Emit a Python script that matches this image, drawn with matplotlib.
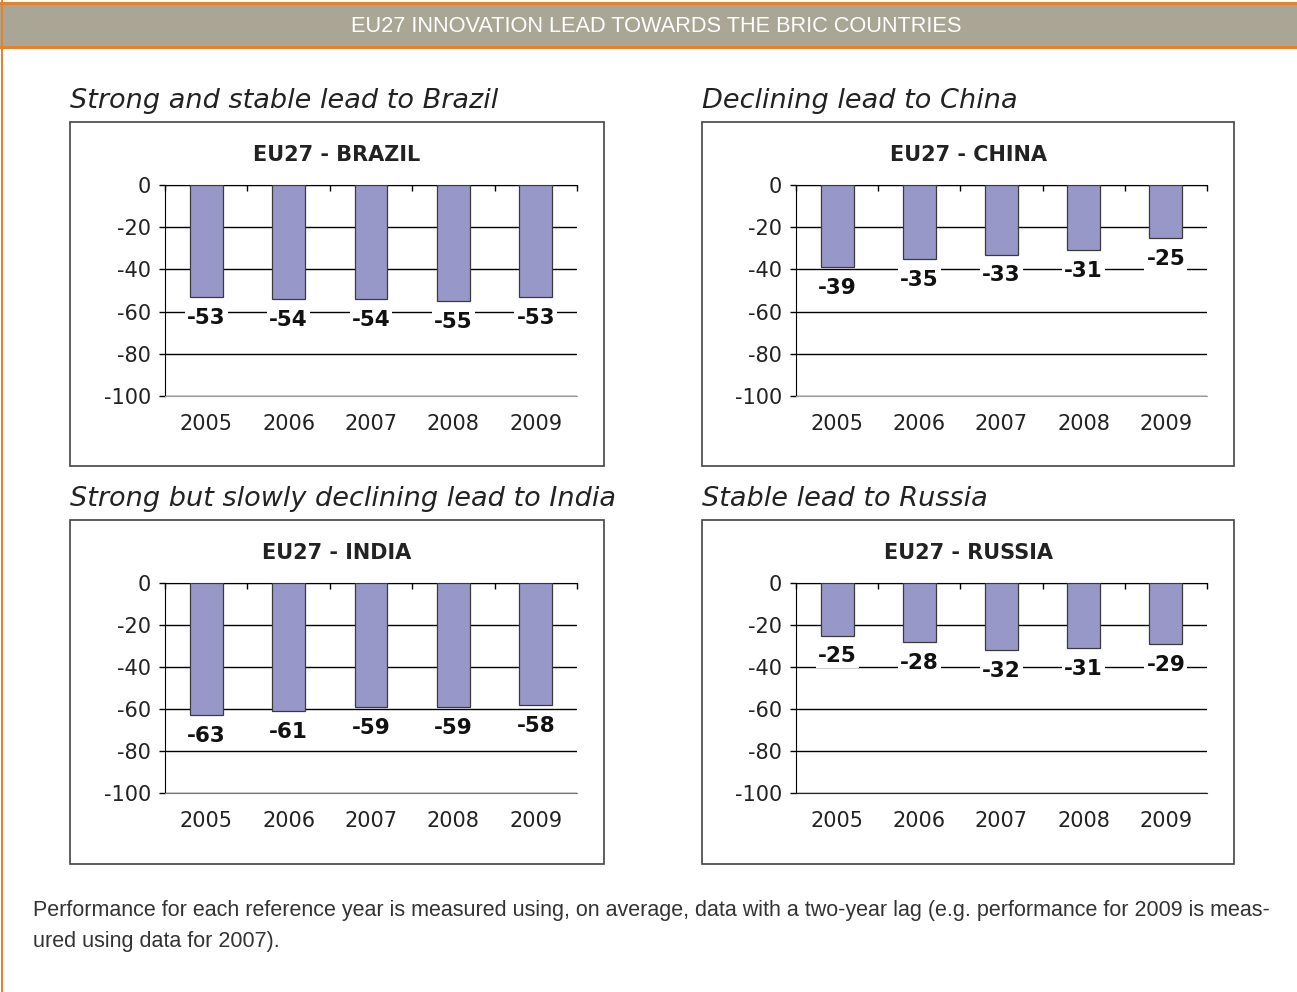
import matplotlib
matplotlib.use('Agg')
import matplotlib.pyplot as plt
from matplotlib import font_manager
from matplotlib.patches import Rectangle

# data
years = ['2005', '2006', '2007', '2008', '2009']
brazil = [-53, -54, -54, -55, -53]
china = [-39, -35, -33, -31, -25]
india = [-63, -61, -59, -59, -58]
russia = [-25, -28, -32, -31, -29]

chart_titles = ['EU27 - BRAZIL', 'EU27 - CHINA', 'EU27 - INDIA', 'EU27 - RUSSIA']
subtitles = ['Strong and stable lead to Brazil', 'Declining lead to China',
             'Strong but slowly declining lead to India', 'Stable lead to Russia']
yticks = [0, -20, -40, -60, -80, -100]
header = 'EU27 INNOVATION LEAD TOWARDS THE BRIC COUNTRIES'
footer = ('Performance for each reference year is measured using, on average, data with a two-year lag (e.g. performance for 2009 is meas-\n'
          'ured using data for 2007).')

plt.rcParams['axes.unicode_minus'] = False
names = {f.name for f in font_manager.fontManager.ttflist}
narrow = 'Liberation Sans Narrow' if 'Liberation Sans Narrow' in names else 'Liberation Sans'

W, H = 1297, 992
fig = plt.figure(figsize=(W / 100, H / 100), dpi=100)

def fx(x):
    return x / W

def fy(y):
    return 1 - y / H

ORANGE = '#E8822A'

# header band and orange frame
fig.add_artist(Rectangle((0, fy(46)), 1, (46 - 4) / H, transform=fig.transFigure,
                         facecolor='#A9A696', edgecolor='none'))
fig.add_artist(Rectangle((0, fy(5)), 1, 3 / H, transform=fig.transFigure,
                         facecolor=ORANGE, edgecolor='none'))
fig.add_artist(Rectangle((0, fy(49)), 1, 3 / H, transform=fig.transFigure,
                         facecolor=ORANGE, edgecolor='none'))
fig.add_artist(Rectangle((fx(1), 0), 2 / W, 1, transform=fig.transFigure,
                         facecolor=ORANGE, edgecolor='none'))
fig.text(fx(656), fy(26), header, color='white', fontsize=15.7, family=narrow,
         ha='center', va='center')

# (values, box px [x0, y0, x1, y1], axes px [left, top, right, bottom], bottom line colour)
panels = [
    (brazil, (70, 122, 604, 466), (165, 185, 577, 396), '#9a9a9a'),
    (china, (702, 122, 1234, 466), (796, 185, 1207, 396), '#9a9a9a'),
    (india, (70, 520, 604, 864), (165, 583, 577, 793), '#777777'),
    (russia, (702, 520, 1234, 864), (796, 583, 1207, 793), '#222222'),
]

for (vals, box, axp, bcol), title, sub in zip(panels, chart_titles, subtitles):
    bx0, by0, bx1, by1 = box
    fig.add_artist(Rectangle((fx(bx0), fy(by1)), (bx1 - bx0) / W, (by1 - by0) / H,
                             transform=fig.transFigure, facecolor='none',
                             edgecolor='#444444', linewidth=1.2))
    fig.text(fx(bx0), fy(by0 - 21), sub, fontsize=19.5, style='italic',
             color='#222222', ha='left', va='center')
    fig.text(fx((bx0 + bx1) / 2), fy(by0 + 33), title, fontsize=15,
             fontweight='bold', color='#222222', ha='center', va='center')

    l, t, r, b = axp
    ax = fig.add_axes([fx(l), fy(b), (r - l) / W, (b - t) / H])
    x = list(range(len(years)))
    ax.bar(x, vals, width=0.4, color='#9898C8', edgecolor='#3a3a3a',
           linewidth=0.9, zorder=3)
    for i, v in enumerate(vals):
        ax.annotate(str(v), (i, v), xytext=(0, -15), textcoords='offset points',
                    ha='center', va='center', fontsize=15.5, fontweight='bold',
                    color='#111111', zorder=4, annotation_clip=False,
                    bbox=dict(facecolor='white', edgecolor='none', pad=1.5))
    ax.set_xlim(-0.5, 4.5)
    ax.set_ylim(-100, 0)
    ax.set_yticks(yticks)
    ax.set_yticklabels([str(v) for v in yticks])
    ax.set_xticks(x)
    ax.set_xticklabels(years)
    ax.set_xticks([k - 0.5 for k in range(len(years) + 1)], minor=True)
    ax.tick_params(axis='x', which='major', length=0, pad=13, labelsize=15,
                   labelcolor='#222222')
    ax.tick_params(axis='x', which='minor', bottom=False, top=True,
                   direction='in', length=4, width=1, color='black')
    ax.tick_params(axis='y', length=4, width=1, pad=6, labelsize=15,
                   labelcolor='#222222')
    ax.yaxis.grid(True, color='black', linewidth=1)
    ax.set_axisbelow(True)
    ax.spines['right'].set_visible(False)
    ax.spines['top'].set_color('black')
    ax.spines['left'].set_color('black')
    ax.spines['bottom'].set_color(bcol)
    ax.patch.set_alpha(0)

fig.text(fx(33), fy(926), footer, fontsize=15.5, family=narrow, color='#333333',
         ha='left', va='center', linespacing=1.6)

fig.savefig('out.png', dpi=100)
